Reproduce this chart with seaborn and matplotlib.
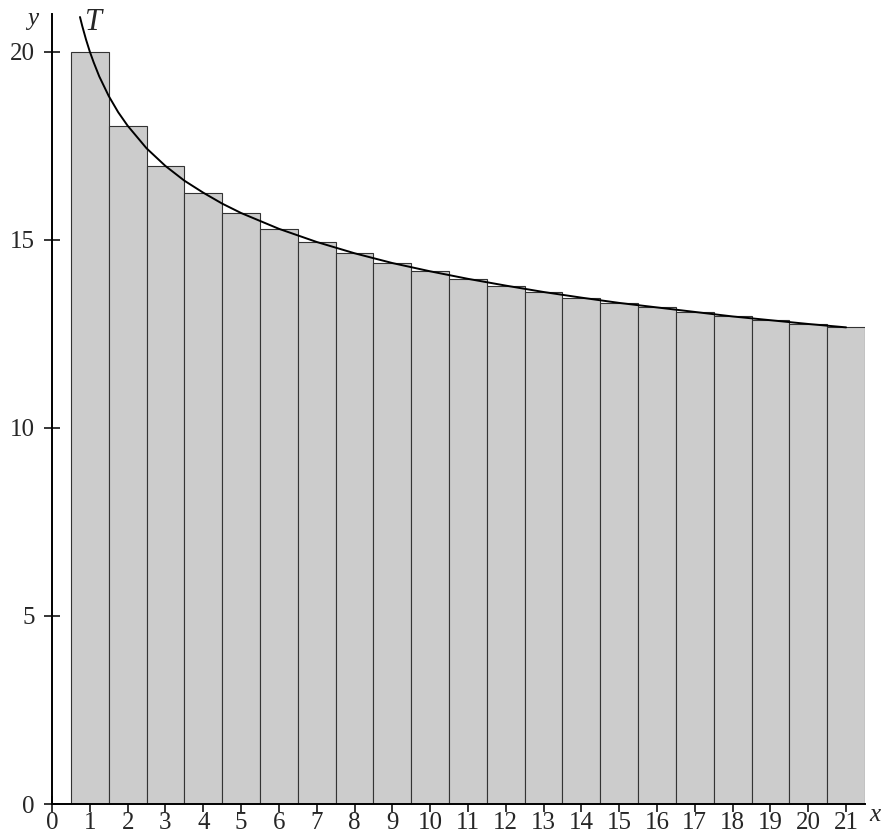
import matplotlib
matplotlib.use('Agg')
import matplotlib.pyplot as plt
import seaborn as sns

sns.set_theme(style='white')
plt.rcParams['font.family'] = ['Liberation Serif', 'DejaVu Serif']

# bar positions and heights
bar_x = list(range(1, 22))
bar_h = [20.00, 18.03, 16.96, 16.25, 15.71, 15.29, 14.94, 14.64, 14.38, 14.16,
         13.96, 13.78, 13.61, 13.46, 13.32, 13.20, 13.08, 12.96, 12.86, 12.76, 12.67]

# points along curve T
curve_x = [0.74, 0.8, 0.9, 1.0, 1.1, 1.25, 1.5, 1.75, 2.0, 2.5, 3.0, 3.5, 4.0, 4.5,
           5, 6, 7, 8, 9, 10, 11, 12, 13, 14, 15, 16, 17, 18, 19, 20, 21]
curve_y = [20.92, 20.68, 20.32, 20.00, 19.72, 19.34, 18.82, 18.39, 18.03, 17.43,
           16.96, 16.57, 16.25, 15.96, 15.71, 15.29, 14.94, 14.64, 14.38, 14.16,
           13.96, 13.78, 13.61, 13.46, 13.32, 13.20, 13.08, 12.96, 12.86, 12.76, 12.67]

x_ticks = list(range(0, 22))
y_ticks = [0, 5, 10, 15, 20]

fig = plt.figure(figsize=(8.82, 8.38), dpi=100)
ax = fig.add_axes([52/882, 1 - 804/838, (865 - 52)/882, (804 - 14)/838])

sns.barplot(x=bar_x, y=bar_h, native_scale=True, width=1.0, color='#cccccc',
            saturation=1, edgecolor='#333333', linewidth=0.8, ax=ax)
sns.lineplot(x=curve_x, y=curve_y, sort=False, color='black', linewidth=1.4,
             estimator=None, ax=ax)

ax.set_xlim(0, 21.5)
ax.set_ylim(0, 21)
ax.set_xticks(x_ticks)
ax.set_xticklabels([str(t) for t in x_ticks])
ax.set_yticks(y_ticks)
ax.set_yticklabels([str(t) for t in y_ticks])
ax.tick_params(axis='x', direction='inout', length=11, width=1.3, labelsize=18,
               pad=0.5, bottom=True)
ax.tick_params(axis='y', direction='inout', length=11, width=1.3, labelsize=18,
               pad=7, left=True)
for s in ['top', 'right']:
    ax.spines[s].set_visible(False)
for s in ['left', 'bottom']:
    ax.spines[s].set_color('black')
    ax.spines[s].set_linewidth(1.4)
ax.set_xlabel('')
ax.set_ylabel('')
ax.grid(False)

ax.text(21.62, -0.28, 'x', fontsize=18, style='italic', ha='left', va='center')
ax.text(-0.5, 20.87, 'y', fontsize=18, style='italic', ha='center', va='center')
ax.text(1.11, 20.77, 'T', fontsize=22, style='italic', ha='center', va='center')

plt.savefig('out.png', dpi=100)
